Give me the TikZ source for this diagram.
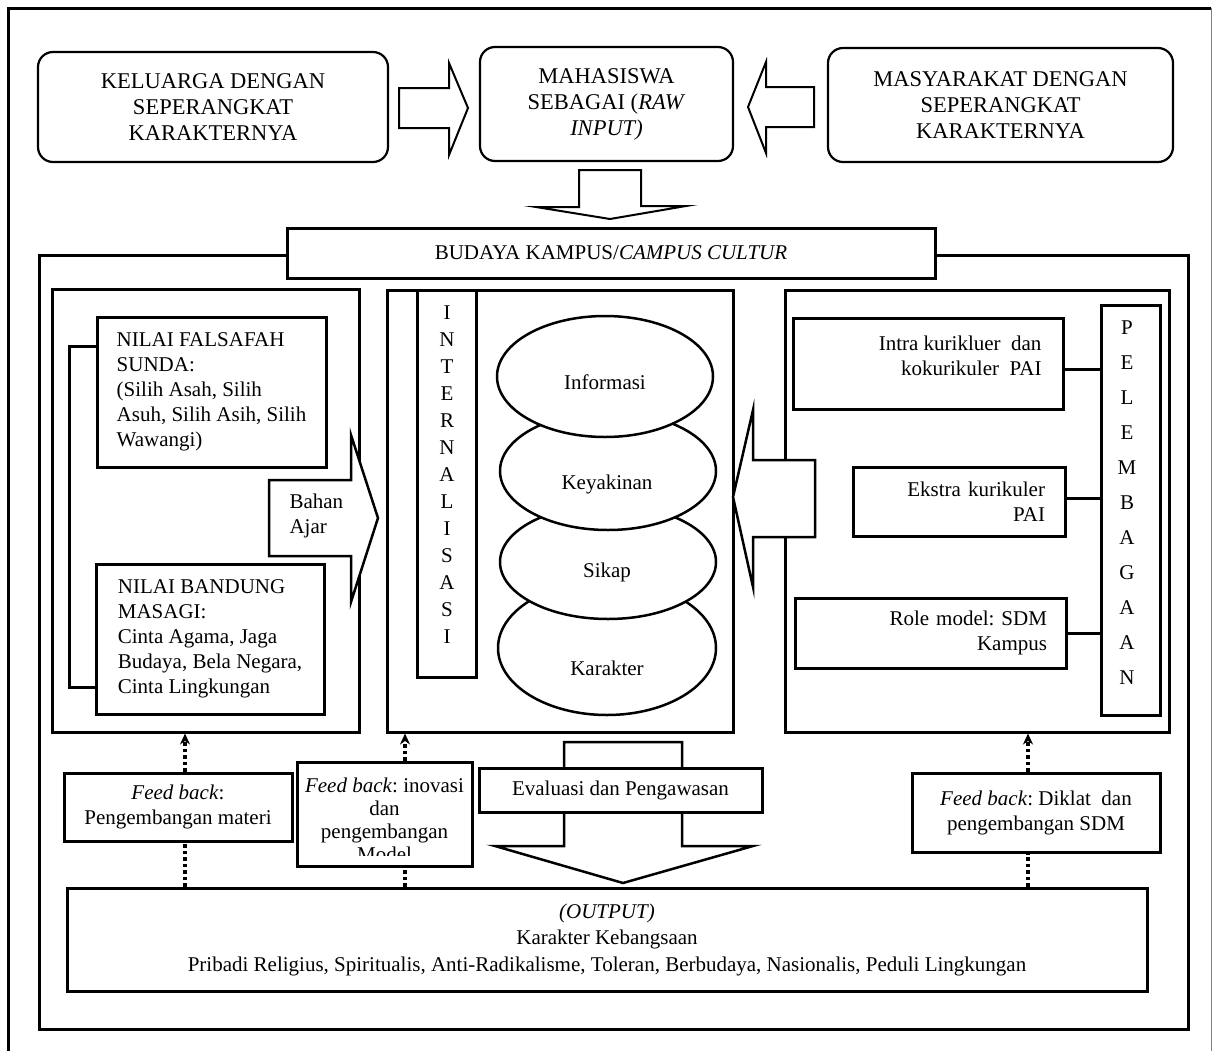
\documentclass[tikz,border=0pt]{standalone}
\usepackage{fontspec}
\setmainfont{Liberation Serif}
\frenchspacing
\usetikzlibrary{arrows.meta,shapes.geometric}

\tikzset{
    every node/.style={font=\fontsize{21}{25}\selectfont},
    capsfont/.style={font=\fontsize{22.5}{26}\selectfont},
    panel/.style={draw, line width=3pt, inner sep=0pt},
    textbox/.style={draw, line width=3pt, fill=white, inner sep=0pt, align=center},
    roundbox/.style={draw, line width=2.2pt, rounded corners=15pt, inner sep=0pt, align=center, capsfont},
    oval/.style={draw, ellipse, line width=2.5pt, fill=white, inner sep=0pt},
    blockarrow/.style={draw, line width=2.5pt, fill=white, line join=miter, miter limit=25},
    feed/.style={line width=3.2pt, dash pattern=on 3.5pt off 3pt},
    feedarrow/.style={feed, -{Stealth[length=11pt,width=10pt]}},
    link/.style={line width=3pt},
}

\begin{document}
\begin{tikzpicture}[x=1pt, y=-1pt]
    \useasboundingbox (0,0) rectangle (1213,1050);
    \clip (0,0) rectangle (1213,1050);

    \draw[line width=3pt] (8,1060) -- (8,8) -- (1211,8);
    \draw[line width=1pt, gray] (1211,8) -- (1211,1060);

    \node[roundbox, minimum width=350pt, minimum height=110pt] (keluarga) at (213,107)
        {KELUARGA DENGAN\\SEPERANGKAT\\KARAKTERNYA};
    \node[roundbox, minimum width=253pt, minimum height=114pt] (mahasiswa) at (606.5,104)
        {MAHASISWA\\SEBAGAI (\textit{RAW}\\\textit{INPUT)}};
    \node[roundbox, minimum width=345pt, minimum height=114pt] (masyarakat) at (1000.5,105)
        {MASYARAKAT DENGAN\\SEPERANGKAT\\KARAKTERNYA};

    \draw[blockarrow, line width=2pt] (399,88) -- (449,88) -- (449,63) -- (468,108)
        -- (449,155) -- (449,128) -- (399,128) -- cycle;
    \draw[blockarrow, line width=2pt] (814,87) -- (766,87) -- (766,62) -- (748,107)
        -- (766,153) -- (766,127) -- (814,127) -- cycle;
    \draw[blockarrow, line width=2pt] (579,170) -- (641,170) -- (641,206) -- (686,206)
        -- (610,219) -- (536,207) -- (579,207) -- cycle;

    \draw[link] (39,255) rectangle (1188,1029);
    \node[textbox, minimum width=648pt, minimum height=50pt] (budaya) at (611,253)
        {BUDAYA KAMPUS/\textit{CAMPUS CULTUR}};

    \node[panel, minimum width=307pt, minimum height=443pt] (nilai) at (205.5,510.5) {};
    \node[panel, minimum width=346pt, minimum height=442pt] (proses) at (560,511) {};
    \node[panel, minimum width=384pt, minimum height=442pt] (lembaga) at (977,511) {};

    \node[textbox, minimum width=229pt, minimum height=150pt, align=left] (sunda) at (211.5,392)
        {NILAI FALSAFAH\\SUNDA:\\(Silih Asah, Silih\\Asuh, Silih Asih, Silih\\Wawangi)};
    \node[textbox, minimum width=228pt, minimum height=150pt, align=left] (bandung) at (210,639)
        {NILAI BANDUNG\\MASAGI:\\Cinta Agama, Jaga\\Budaya, Bela Negara,\\Cinta Lingkungan};
    \draw[link] ([yshift=46pt]sunda.west) -- ++(-26,0) |- ([yshift=-48pt]bandung.west);

    \draw[blockarrow] (269,480) -- (351,480) -- (351,435) -- (378,518) -- (351,602)
        -- (351,556) -- (269,556) -- cycle;
    \node[anchor=west, align=left] (bahan) at (286,516) {Bahan\\Ajar};

    \node[panel, minimum width=59pt, minimum height=387pt] (internal) at (446.5,483.5) {};
    \node[align=center, font=\fontsize{21}{27}\selectfont] (internaltext) at (447,475)
        {I\\N\\T\\E\\R\\N\\A\\L\\I\\S\\A\\S\\I};

    \node[oval, minimum width=218pt, minimum height=134pt] (karakter) at (607,648) {};
    \node[oval, minimum width=216pt, minimum height=114pt] (sikap) at (608,562) {};
    \node[oval, minimum width=216pt, minimum height=118pt] (keyakinan) at (608,471) {};
    \node[oval, minimum width=216pt, minimum height=121pt] (informasi) at (605,376.5) {};
    \node[anchor=base] (informasitext) at (605,389) {Informasi};
    \node[anchor=base] (keyakinantext) at (607,489) {Keyakinan};
    \node[anchor=base] (sikaptext) at (607,577) {Sikap};
    \node[anchor=base] (karaktertext) at (607,675) {Karakter};

    \draw[blockarrow] (815,460) -- (753,460) -- (753,410) -- (733,497) -- (753,587)
        -- (753,537) -- (815,537) -- cycle;

    \node[textbox, minimum width=270pt, minimum height=91pt] (intra) at (928,363.5) {};
    \node[anchor=east, align=right] (intratext) at (1045,356)
        {Intra kurikluer\ \ dan\\kokurikuler\ \ PAI};
    \node[textbox, minimum width=212pt, minimum height=69pt, text width=172pt, align=right]
        (ekstra) at (959,501.5) {Ekstra kurikuler\\PAI};
    \node[textbox, minimum width=271pt, minimum height=70pt, text width=233pt, align=right]
        (role) at (930.5,633) {Role model: SDM\\Kampus};
    \node[panel, minimum width=59pt, minimum height=410pt] (pelembagaan) at (1130.5,510) {};
    \node[align=center, font=\fontsize{21}{35}\selectfont] (pelembagaantext) at (1127,503)
        {P\\E\\L\\E\\M\\B\\A\\G\\A\\A\\N};
    \draw[link] (intra.east) ++(0,6) coordinate (c1) -- (c1 -| pelembagaan.west);
    \draw[link] (ekstra.east) ++(0,-3) coordinate (c2) -- (c2 -| pelembagaan.west);
    \draw[link] (role.east) -- (role.east -| pelembagaan.west);

    \node[textbox, minimum width=228pt, minimum height=68pt] (fbmateri) at (178,807)
        {\textit{Feed back}:\\Pengembangan materi};
    \node[textbox, minimum width=175pt, minimum height=104pt] (fbmodel) at (384.5,814) {};
    \begin{scope}
        \clip (297,762) rectangle (472,855);
        \node[anchor=north, align=center, inner sep=0pt, font=\fontsize{21}{23}\selectfont]
            (fbmodeltext) at (384.5,778) {\textit{Feed back}: inovasi\\dan\\pengembangan\\Model};
    \end{scope}
    \node[textbox, minimum width=248pt, minimum height=79pt] (fbsdm) at (1036,812.5)
        {\textit{Feed back}: Diklat\ \ dan\\pengembangan SDM};

    \draw[blockarrow] (564,742) -- (682,742) -- (682,846) -- (753,846) -- (623,883)
        -- (495,846) -- (564,846) -- cycle;
    \node[textbox, minimum width=283pt, minimum height=44pt] (evaluasi) at (620.5,790)
        {Evaluasi dan Pengawasan};

    \node[textbox, minimum width=1080pt, minimum height=103pt, font=\fontsize{21}{26.5}\selectfont]
        (output) at (607,939.5) {\textit{(OUTPUT)}\\Karakter Kebangsaan\\Pribadi Religius,
        Spiritualis, Anti-Radikalisme, Toleran, Berbudaya, Nasionalis, Peduli Lingkungan};

    \draw[feed] (output.north -| 185,0) -- (fbmateri.south -| 185,0);
    \draw[feedarrow] (fbmateri.north -| 185,0) -- (nilai.south -| 185,0);
    \draw[feed] (output.north -| 405,0) -- (fbmodel.south -| 405,0);
    \draw[feedarrow] (fbmodel.north -| 405,0) -- (proses.south -| 405,0);
    \draw[feed] (output.north -| 1028,0) -- (fbsdm.south -| 1028,0);
    \draw[feedarrow] (fbsdm.north -| 1028,0) -- (lembaga.south -| 1028,0);
\end{tikzpicture}
\end{document}
